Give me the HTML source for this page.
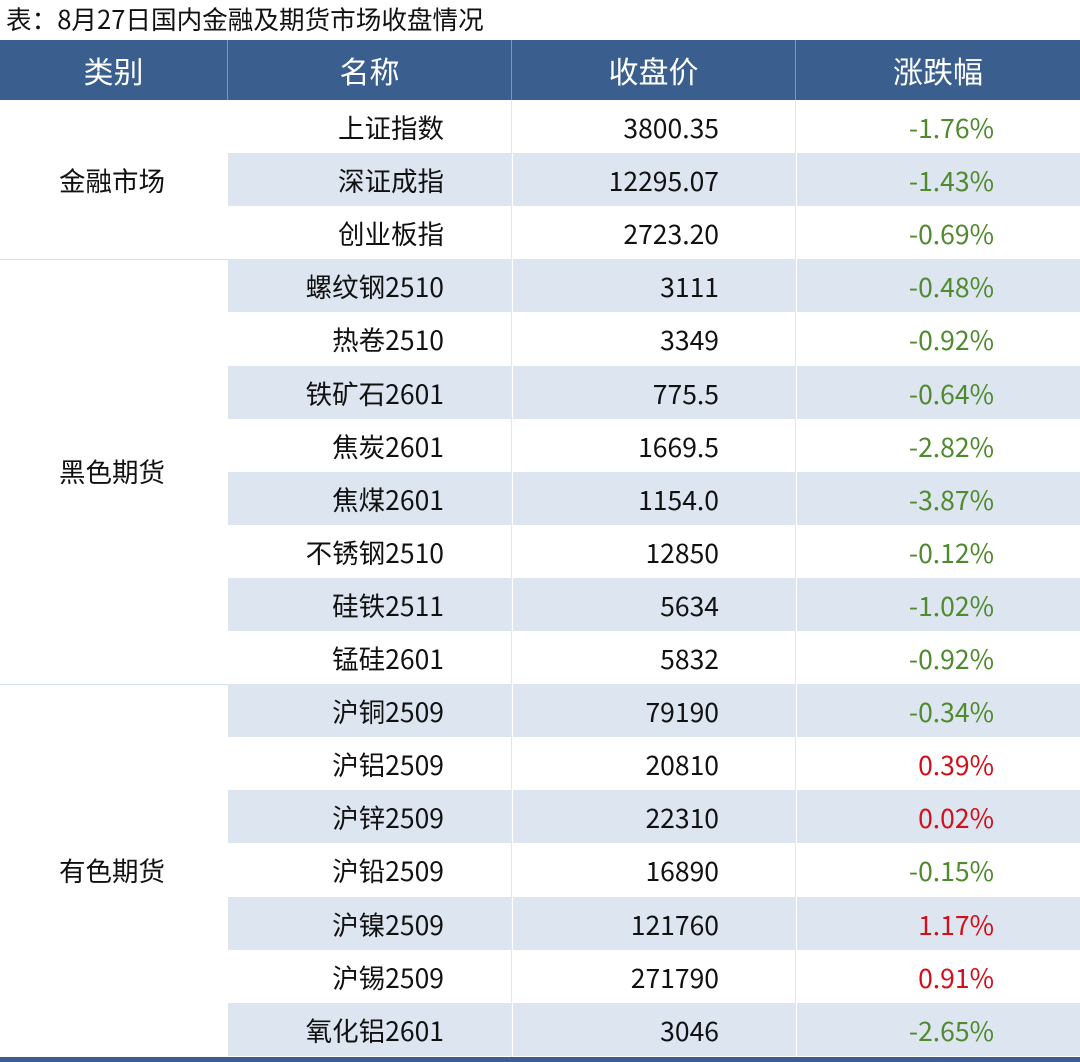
<!DOCTYPE html>
<html><head><meta charset="utf-8">
<style>
body{margin:0;width:1080px;height:1062px;background:#fff;position:relative;overflow:hidden;font-family:"Noto Sans CJK SC","Liberation Sans",sans-serif;}
.t{position:absolute;left:6px;top:1px;font-size:25.6px;line-height:36px;color:#111;}
.hd{position:absolute;top:40px;height:60px;background:#3a5f8f;color:#fff;font-size:30px;line-height:60px;text-align:center;border-right:1px solid #7d98bb;box-sizing:border-box;}
.c{position:absolute;font-size:26.5px;color:#111;box-sizing:border-box;}
.sh{background:#dce5f0;}
</style></head><body>
<div class="t">表：8月27日国内金融及期货市场收盘情况</div>
<div class="hd" style="left:0;width:228px">类别</div>
<div class="hd" style="left:228px;width:284px">名称</div>
<div class="hd" style="left:512px;width:284px">收盘价</div>
<div class="hd" style="left:796px;width:284px;border-right:none">涨跌幅</div>
<div id="rows"></div>
<div style="position:absolute;left:0;top:1057px;width:1080px;height:5px;background:#3a5f8f"></div>
<script>
const names=["上证指数","深证成指","创业板指","螺纹钢2510","热卷2510","铁矿石2601","焦炭2601","焦煤2601","不锈钢2510","硅铁2511","锰硅2601","沪铜2509","沪铝2509","沪锌2509","沪铅2509","沪镍2509","沪锡2509","氧化铝2601"];
const prices=["3800.35","12295.07","2723.20","3111","3349","775.5","1669.5","1154.0","12850","5634","5832","79190","20810","22310","16890","121760","271790","3046"];
const changes=[-1.76,-1.43,-0.69,-0.48,-0.92,-0.64,-2.82,-3.87,-0.12,-1.02,-0.92,-0.34,0.39,0.02,-0.15,1.17,0.91,-2.65];
const groups=[["金融市场",0,3],["黑色期货",3,11],["有色期货",11,18]];
const R=document.getElementById('rows');
const top0=100,rh=53.1;
function mk(css,txt){const d=document.createElement('div');d.className='c';d.style.cssText=css;d.textContent=txt;R.appendChild(d);return d;}
names.forEach((n,i)=>{
  const y=top0+i*rh;
  if(i%2===1){const b=mk(`left:228px;top:${y}px;width:852px;height:${rh}px;`,'');b.classList.add('sh');
  
  
  [512,796].forEach(x=>{const l=mk(`left:${x-1}px;top:${y}px;width:2px;height:${rh}px;background:#fff`,'');
  
  });}
  const a=mk(`left:228px;top:${y}px;width:216px;height:${rh}px;line-height:${rh}px;text-align:right`,n);
  
  
  const p=mk(`left:512px;top:${y}px;width:207px;height:${rh}px;line-height:${rh}px;text-align:right`,prices[i]);
  
  
  const c=changes[i];
  const q=mk(`left:796px;top:${y}px;width:198px;height:${rh}px;line-height:${rh}px;text-align:right;color:${c<0?'#4f8a2f':'#d0101a'}`,c.toFixed(2)+'%');
  
  
});
groups.forEach(([g,s,e])=>{
  const y=top0+s*rh,h=(e-s)*rh;
  const d=mk(`left:0;top:${y}px;width:228px;height:${h}px;line-height:${h}px;text-align:center;padding-right:4px`,g);
  
  
  if(s>0){const l=mk(`left:0;top:${y-0.5}px;width:228px;height:1px;background:#d4dde8`,'');
  
  }
});
const v=mk(`left:511px;top:100px;width:1px;height:957px;background:#e3e7ec`,'');


const v2=mk(`left:795px;top:100px;width:1px;height:957px;background:#e3e7ec`,'');


</script>
</body></html>
